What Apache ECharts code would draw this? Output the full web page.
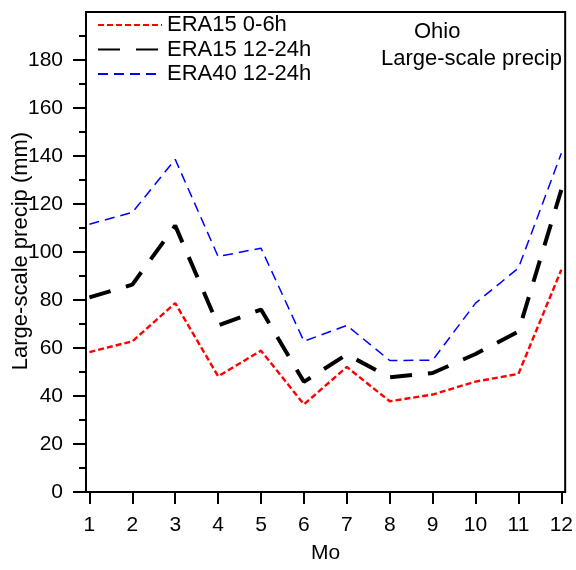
<!DOCTYPE html>
<html><head><meta charset="utf-8">
<script src="https://cdn.jsdelivr.net/npm/echarts@6/dist/echarts.min.js"></script>
<style>html,body{margin:0;padding:0;background:#fff}#c{width:576px;height:570px}</style>
</head><body><div id="c"></div>
<script>
var months = [1,2,3,4,5,6,7,8,9,10,11,12];
var era15_0_6 = [58.3, 62.8, 78.7, 48.2, 58.9, 36.5, 52.1, 37.8, 40.6, 46, 49.2, 92.6];
var era15_12_24 = [81.1, 86.4, 111, 69.4, 76, 45.9, 57.3, 47.8, 49.6, 57.5, 66.9, 125.9];
var era40_12_24 = [111.6, 116.5, 138.6, 98.1, 101.6, 62.8, 69.4, 54.8, 54.9, 78.7, 93.3, 141.1];
var yTicks = [0,20,40,60,80,100,120,140,160,180];
var seriesNames = ['ERA15 0-6h','ERA15 12-24h','ERA40 12-24h'];

function pairs(v){ return months.map(function(m,i){ return [m, v[i]]; }); }
var FONT = 'Liberation Sans';
var chart = echarts.init(document.getElementById('c'));
chart.setOption({
  animation:false,
  textStyle:{fontFamily:FONT},
  grid:{left:86,right:7,top:12,bottom:78,show:true,borderColor:'#000',borderWidth:2,backgroundColor:'transparent'},
  legend:{
    left:97, top:14, orient:'vertical', itemWidth:64, itemHeight:21, itemGap:2.5, padding:0,
    textStyle:{fontFamily:FONT,fontSize:22,lineHeight:21,color:'#000'},
    itemStyle:{opacity:0},
    data:seriesNames
  },
  graphic:[
    {type:'text', left:414, top:21, style:{text:'Ohio', font:'22px "Liberation Sans"', fill:'#000'}},
    {type:'text', left:381, top:48, style:{text:'Large-scale precip', font:'22px "Liberation Sans"', fill:'#000'}},
    {type:'text', x:21, y:251, rotation:Math.PI/2,
     style:{text:'Large-scale precip (mm)', font:'22px "Liberation Sans"', fill:'#000', align:'center', verticalAlign:'middle'}}
  ],
  xAxis:{
    type:'value', min:0.92, max:12.09, offset:1,
    name:'Mo', nameLocation:'middle', nameGap:50,
    nameTextStyle:{fontFamily:FONT,fontSize:21,color:'#000'},
    axisLine:{show:false},
    axisTick:{show:true,length:12,lineStyle:{color:'#000',width:2},customValues:months},
    axisLabel:{fontFamily:FONT,fontSize:21,color:'#000',margin:22,customValues:months},
    splitLine:{show:false}
  },
  yAxis:{
    type:'value', min:0, max:200, interval:20,
    axisLine:{show:true,lineStyle:{color:'#000',width:2}},
    axisTick:{show:true,length:13,lineStyle:{color:'#000',width:2},customValues:yTicks},
    minorTick:{show:true,splitNumber:2,length:7,lineStyle:{color:'#000',width:2}},
    axisLabel:{fontFamily:FONT,fontSize:21,color:'#000',margin:23,customValues:yTicks},
    splitLine:{show:false}
  },
  series:[
    {name:seriesNames[0], type:'line', data:pairs(era15_0_6), symbol:'none',
     lineStyle:{color:'#ff0000',width:2.4,type:[6,3]}, itemStyle:{color:'#ff0000'}},
    {name:seriesNames[1], type:'line', data:pairs(era15_12_24), symbol:'none',
     lineStyle:{color:'#000',width:4,type:[22,16]}, itemStyle:{color:'#000'}},
    {name:seriesNames[2], type:'line', data:pairs(era40_12_24), symbol:'none',
     lineStyle:{color:'#0000ff',width:1.5,type:[10,6]}, itemStyle:{color:'#0000ff'}}
  ]
});
</script></body></html>
